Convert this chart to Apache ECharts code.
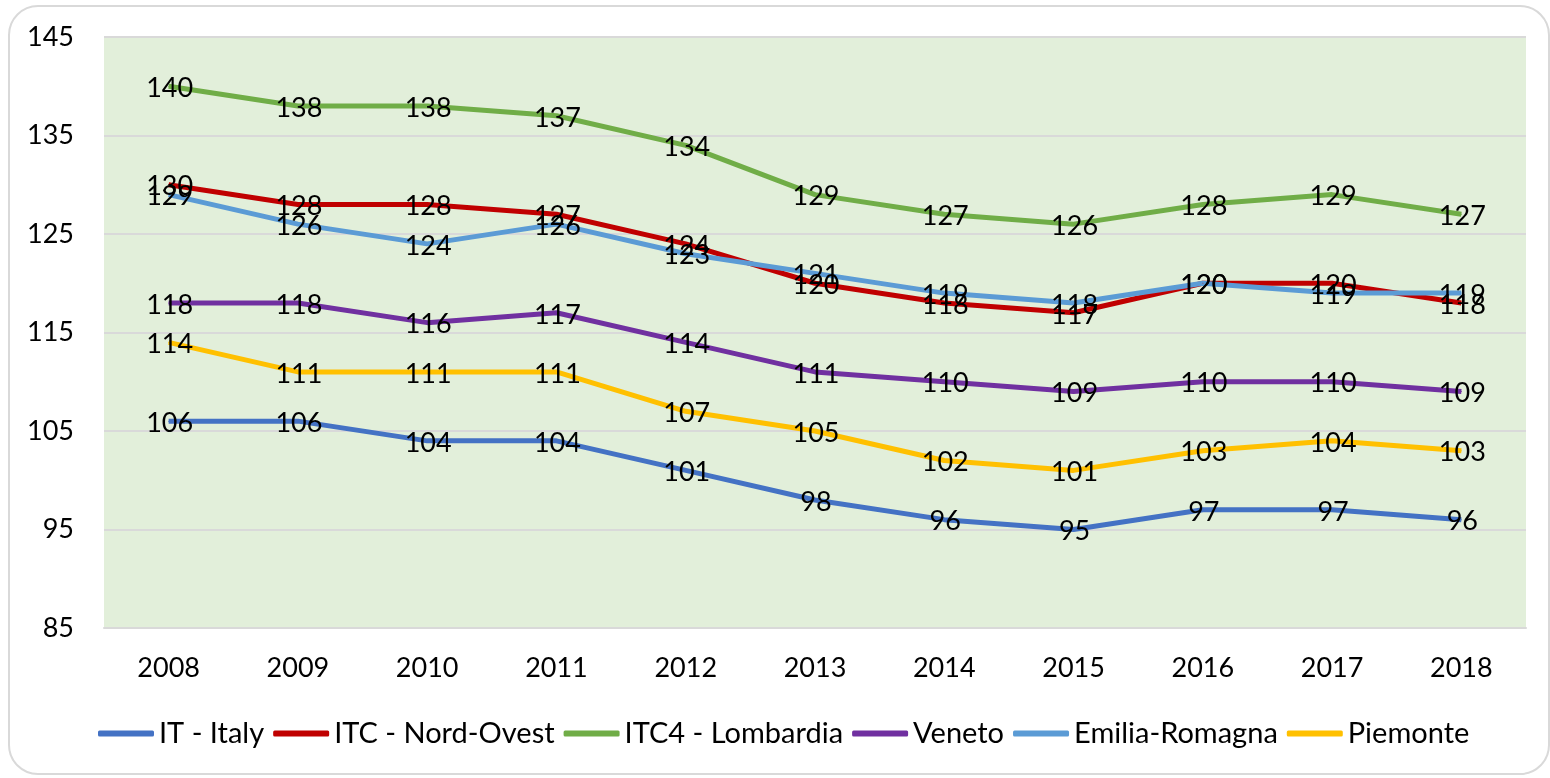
<!DOCTYPE html>
<html>
<head>
<meta charset="utf-8">
<script src="https://cdn.jsdelivr.net/npm/echarts@6/dist/echarts.min.js"></script>
<style>
  html, body { margin: 0; padding: 0; background: #fff; }
  #frame {
    position: absolute; left: 8px; top: 5px; width: 1538px; height: 766px;
    border: 2px solid #d9d9d9; border-radius: 30px;
  }
  #main { position: absolute; left: 0; top: 0; width: 1550px; height: 778px; }
</style>
</head>
<body>
<div id="frame"></div>
<div id="main"></div>
<script>
// categories
var years = ['2008', '2009', '2010', '2011', '2012', '2013', '2014', '2015', '2016', '2017', '2018'];

// series values
var italy      = [106, 106, 104, 104, 101, 98, 96, 95, 97, 97, 96];
var nordOvest  = [130, 128, 128, 127, 124, 120, 118, 117, 120, 120, 118];
var lombardia  = [140, 138, 138, 137, 134, 129, 127, 126, 128, 129, 127];
var veneto     = [118, 118, 116, 117, 114, 111, 110, 109, 110, 110, 109];
var emilia     = [129, 126, 124, 126, 123, 121, 119, 118, 120, 119, 119];
var piemonte   = [114, 111, 111, 111, 107, 105, 102, 101, 103, 104, 103];

var names  = ['IT - Italy', 'ITC - Nord-Ovest', 'ITC4 - Lombardia', 'Veneto', 'Emilia-Romagna', 'Piemonte'];
var values = [italy, nordOvest, lombardia, veneto, emilia, piemonte];
var colors = ['#4472c4', '#c00000', '#70ad47', '#7030a0', '#5b9bd5', '#ffc000'];

var font = 'Lato';

function makeSeries(i) {
    return {
        name: names[i],
        type: 'line',
        data: values[i],
        symbol: 'circle',
        symbolSize: 1,
        lineStyle: { width: 5, color: colors[i] },
        itemStyle: { color: colors[i] },
        label: {
            show: true,
            position: 'inside',
            offset: [1, 2],
            color: '#000',
            fontFamily: font,
            fontSize: 27
        },
        emphasis: { disabled: true }
    };
}

var series = [];
for (var i = 0; i < names.length; i++) {
    series.push(makeSeries(i));
}

var myChart = echarts.init(document.getElementById('main'));
var option = {
    animation: false,
    textStyle: { fontFamily: font },
    grid: {
        left: 104, right: 24, top: 37, bottom: 150,
        show: true, backgroundColor: '#e2efda', borderWidth: 0
    },
    legend: {
        data: names,
        left: 93,
        top: 714,
        itemWidth: 56,
        itemHeight: 6,
        itemGap: 9,
        icon: 'roundRect',
        textStyle: { fontFamily: font, fontSize: 29, color: '#000' }
    },
    xAxis: {
        type: 'category',
        data: years,
        axisLine: { lineStyle: { color: '#d9d9d9', width: 2 } },
        axisTick: { show: false },
        axisLabel: { fontSize: 27, color: '#000', margin: 27 }
    },
    yAxis: {
        type: 'value',
        min: 85, max: 145, interval: 10,
        axisLine: { show: false },
        axisTick: { show: false },
        axisLabel: { fontSize: 27, color: '#000', margin: 30 },
        splitLine: { lineStyle: { color: '#d9d9d9', width: 2 } }
    },
    series: series
};
myChart.setOption(option);
</script>
</body>
</html>
